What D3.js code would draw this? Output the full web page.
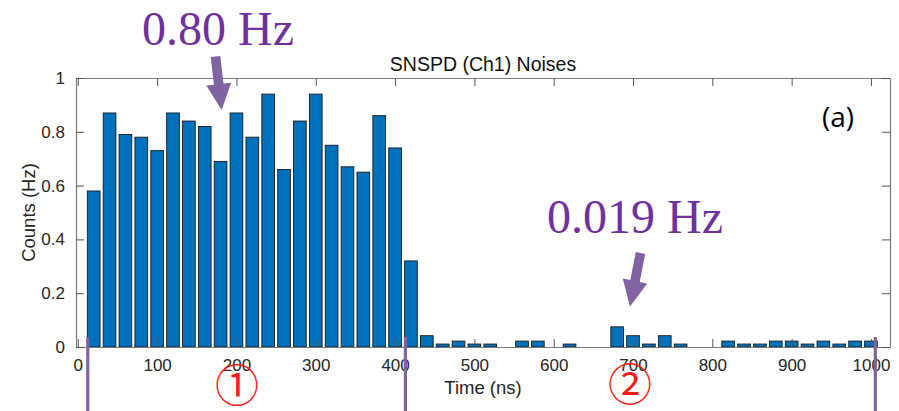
<!DOCTYPE html>
<html>
<head>
<meta charset="utf-8">
<script src="https://cdn.jsdelivr.net/npm/d3@7"></script>
<style>
  html, body { margin: 0; padding: 0; background: #ffffff; }
  svg { display: block; }
</style>
</head>
<body>
<svg id="chart" width="899" height="411"></svg>
<script>
// ---- data ----
const binCenters = [20, 40, 60, 80, 100, 120, 140, 160, 180, 200,
                    220, 240, 260, 280, 300, 320, 340, 360, 380, 400,
                    420, 440, 460, 480, 500, 520, 540, 560, 580, 600,
                    620, 640, 660, 680, 700, 720, 740, 760, 780, 800,
                    820, 840, 860, 880, 900, 920, 940, 960, 980, 1000];
const counts = [0.58, 0.87, 0.79, 0.78, 0.73, 0.87, 0.84, 0.82, 0.69, 0.87,
                0.78, 0.94, 0.66, 0.84, 0.94, 0.75, 0.67, 0.65, 0.86, 0.74,
                0.32, 0.042, 0.011, 0.022, 0.011, 0.011, 0, 0.022, 0.022, 0,
                0.011, 0, 0, 0.075, 0.042, 0.011, 0.042, 0.011, 0, 0,
                0.022, 0.011, 0.011, 0.022, 0.022, 0.011, 0.022, 0.011, 0.022, 0.022];
const xTicks = [0, 100, 200, 300, 400, 500, 600, 700, 800, 900, 1000];
const yTicks = [0, 0.2, 0.4, 0.6, 0.8, 1];
const yTickLabels = ["0", "0.2", "0.4", "0.6", "0.8", "1"];
const binWidth = 16;               // ns (bar width 0.8 of 20 ns bin)
const regionMarks = [12.5, 413, 1005.5];   // purple boundary lines (ns)
const titleText = "SNSPD (Ch1) Noises";
const xLabel = "Time (ns)";
const yLabel = "Counts (Hz)";

// ---- layout ----
const svg = d3.select("#chart");
const mLeft = 76, mRight = 890, mTop = 78, mBottom = 347;
const x = d3.scaleLinear().domain([-2.3, 1024]).range([mLeft, mRight]);
const y = d3.scaleLinear().domain([0, 1]).range([mBottom, mTop]);

const axisColor = "#7a7a7a";
const textColor = "#262626";
const sansFont = "'Liberation Sans', Arial, Helvetica, sans-serif";

// bars
svg.append("g").selectAll("rect")
  .data(binCenters.map((c, i) => ({c, v: counts[i]})).filter(d => d.v > 0))
  .join("rect")
  .attr("x", d => x(d.c - binWidth / 2))
  .attr("width", d => x(d.c + binWidth / 2) - x(d.c - binWidth / 2))
  .attr("y", d => y(d.v))
  .attr("height", d => y(0) - y(d.v))
  .attr("fill", "#0072BD")
  .attr("stroke", "#1a1a1a")
  .attr("stroke-width", 0.9);

// axes (ticks inside, box on)
const tickLen = 8;
const xb = svg.append("g").attr("transform", `translate(0,${mBottom})`)
  .call(d3.axisBottom(x).tickValues(xTicks).tickSizeInner(-tickLen).tickSizeOuter(0).tickPadding(12).tickFormat(d3.format("d")));
const xt = svg.append("g").attr("transform", `translate(0,${mTop})`)
  .call(d3.axisTop(x).tickValues(xTicks).tickSizeInner(-tickLen).tickSizeOuter(0).tickFormat(""));
const yl = svg.append("g").attr("transform", `translate(${mLeft},0)`)
  .call(d3.axisLeft(y).tickValues(yTicks).tickSizeInner(-tickLen).tickSizeOuter(0).tickPadding(11)
        .tickFormat((d, i) => yTickLabels[i]));
const yr = svg.append("g").attr("transform", `translate(${mRight},0)`)
  .call(d3.axisRight(y).tickValues(yTicks).tickSizeInner(-tickLen).tickSizeOuter(0).tickFormat(""));

[xb, xt, yl, yr].forEach(g => {
  g.select(".domain").attr("stroke", axisColor).attr("stroke-width", 1.2);
  g.selectAll(".tick line").attr("stroke", "#555").attr("stroke-width", 1);
  g.selectAll(".tick text").attr("fill", textColor)
    .style("font-family", sansFont).style("font-size", "17px");
});

// title
svg.append("text").attr("x", (mLeft + mRight) / 2).attr("y", 71)
  .attr("text-anchor", "middle").attr("fill", "#111")
  .style("font-family", sansFont).style("font-size", "19.5px").text(titleText);
// x label
svg.append("text").attr("x", (mLeft + mRight) / 2).attr("y", 394)
  .attr("text-anchor", "middle").attr("fill", textColor)
  .style("font-family", sansFont).style("font-size", "18.5px").text(xLabel);
// y label
svg.append("text").attr("transform", `translate(35,${(mTop + mBottom) / 2}) rotate(-90)`)
  .attr("text-anchor", "middle").attr("fill", textColor)
  .style("font-family", sansFont).style("font-size", "18.5px").text(yLabel);

// (a) panel label
svg.append("text").attr("x", 822).attr("y", 127)
  .attr("fill", "#000").style("font-family", "'Open Sans', sans-serif").style("font-size", "28px").text("(a)");

// ---- annotations ----
const purple = "#8064A2";
// region boundary lines
svg.append("g").selectAll("line").data(regionMarks).join("line")
  .attr("x1", d => x(d)).attr("x2", d => x(d))
  .attr("y1", 337).attr("y2", 411)
  .attr("stroke", purple).attr("stroke-width", 3.2);

// arrows
function arrow(x0, y0, x1, y1) {
  const dx = x1 - x0, dy = y1 - y0, L = Math.hypot(dx, dy);
  const ux = dx / L, uy = dy / L, px = -uy, py = ux;
  const sw = 4.8, hw = 12.5, hl = 26;
  const bx = x1 - ux * hl, by = y1 - uy * hl;
  const pts = [
    [x0 + px * sw, y0 + py * sw],
    [bx + px * sw, by + py * sw],
    [bx + px * hw, by + py * hw],
    [x1, y1],
    [bx - px * hw, by - py * hw],
    [bx - px * sw, by - py * sw],
    [x0 - px * sw, y0 - py * sw]
  ];
  svg.append("path").attr("d", "M" + pts.map(p => p.join(",")).join("L") + "Z")
    .attr("fill", purple);
}
arrow(215.5, 56.5, 221.7, 110);
arrow(640.5, 253, 630, 306.5);

const serif = "'Liberation Serif', 'Times New Roman', serif";
svg.append("text").attr("x", 142).attr("y", 45).attr("fill", "#7030A0")
  .style("font-family", serif).style("font-size", "48px").text("0.80 Hz");
svg.append("text").attr("x", 547).attr("y", 233).attr("fill", "#7030A0")
  .style("font-family", serif).style("font-size", "48px").text("0.019 Hz");

// circled region numbers
const cjk = "'Noto Sans CJK SC', 'Noto Sans CJK JP', sans-serif";
svg.append("text").attr("x", 237).attr("y", 383).attr("text-anchor", "middle")
  .attr("dominant-baseline", "central").attr("fill", "#ff1a1a")
  .style("font-family", cjk).style("font-size", "44px").text("①");
svg.append("text").attr("x", 630).attr("y", 382).attr("text-anchor", "middle")
  .attr("dominant-baseline", "central").attr("fill", "#ff1a1a")
  .style("font-family", cjk).style("font-size", "44px").text("②");
</script>
</body>
</html>
